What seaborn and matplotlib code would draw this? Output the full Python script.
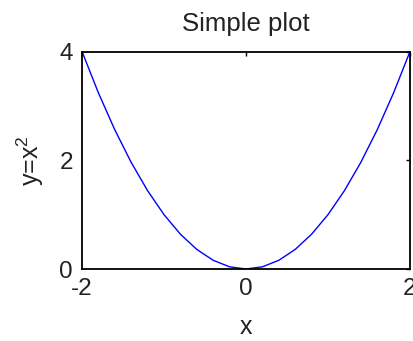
import matplotlib
matplotlib.use("Agg")
import matplotlib.pyplot as plt
import seaborn as sns
import pandas as pd

# Data
x_values = [-2.0, -1.8, -1.6, -1.4, -1.2, -1.0, -0.8, -0.6, -0.4, -0.2, 0.0,
            0.2, 0.4, 0.6, 0.8, 1.0, 1.2, 1.4, 1.6, 1.8, 2.0]
y_values = [4.0, 3.24, 2.56, 1.96, 1.44, 1.0, 0.64, 0.36, 0.16, 0.04, 0.0,
            0.04, 0.16, 0.36, 0.64, 1.0, 1.44, 1.96, 2.56, 3.24, 4.0]
x_ticks = [-2, 0, 2]
y_ticks = [0, 2, 4]
title_text = "Simple plot"
x_label = "x"
y_label = "y=x$^2$"

sns.set_style("white")
plt.rcParams['font.family'] = ['Liberation Sans', 'DejaVu Sans']
plt.rcParams['mathtext.default'] = 'regular'
plt.rcParams['axes.unicode_minus'] = False
plt.rcParams['text.color'] = '#222222'
plt.rcParams['axes.labelcolor'] = '#222222'

W, H = 413, 341
fig = plt.figure(figsize=(W / 100, H / 100), dpi=100)
left, right, top, bottom = 82, 410, 51.5, 269
ax = fig.add_axes([left / W, (H - bottom) / H, (right - left) / W, (bottom - top) / H])

df = pd.DataFrame({"x": x_values, "y": y_values})
sns.lineplot(data=df, x="x", y="y", ax=ax, color="#0000FF", linewidth=1.0, sort=False)

ax.set_xlim(-2, 2)
ax.set_ylim(0, 4)
ax.set_xticks(x_ticks)
ax.set_yticks(y_ticks)
ax.tick_params(direction="in", length=3, width=1, top=True, right=True,
               labelsize=17.5, pad=6.5, colors="black", labelcolor="#222222")
for s in ax.spines.values():
    s.set_visible(True)
    s.set_color("black")
    s.set_linewidth(1.3)

ax.set_title(title_text, fontsize=18.5, pad=14.8)
ax.set_xlabel(x_label, fontsize=18)
ax.set_ylabel(y_label, fontsize=18)
ax.xaxis.set_label_coords(0.5, -0.21)
ax.yaxis.set_label_coords(-0.11, 0.5)

fig.savefig("out.png", dpi=100)
